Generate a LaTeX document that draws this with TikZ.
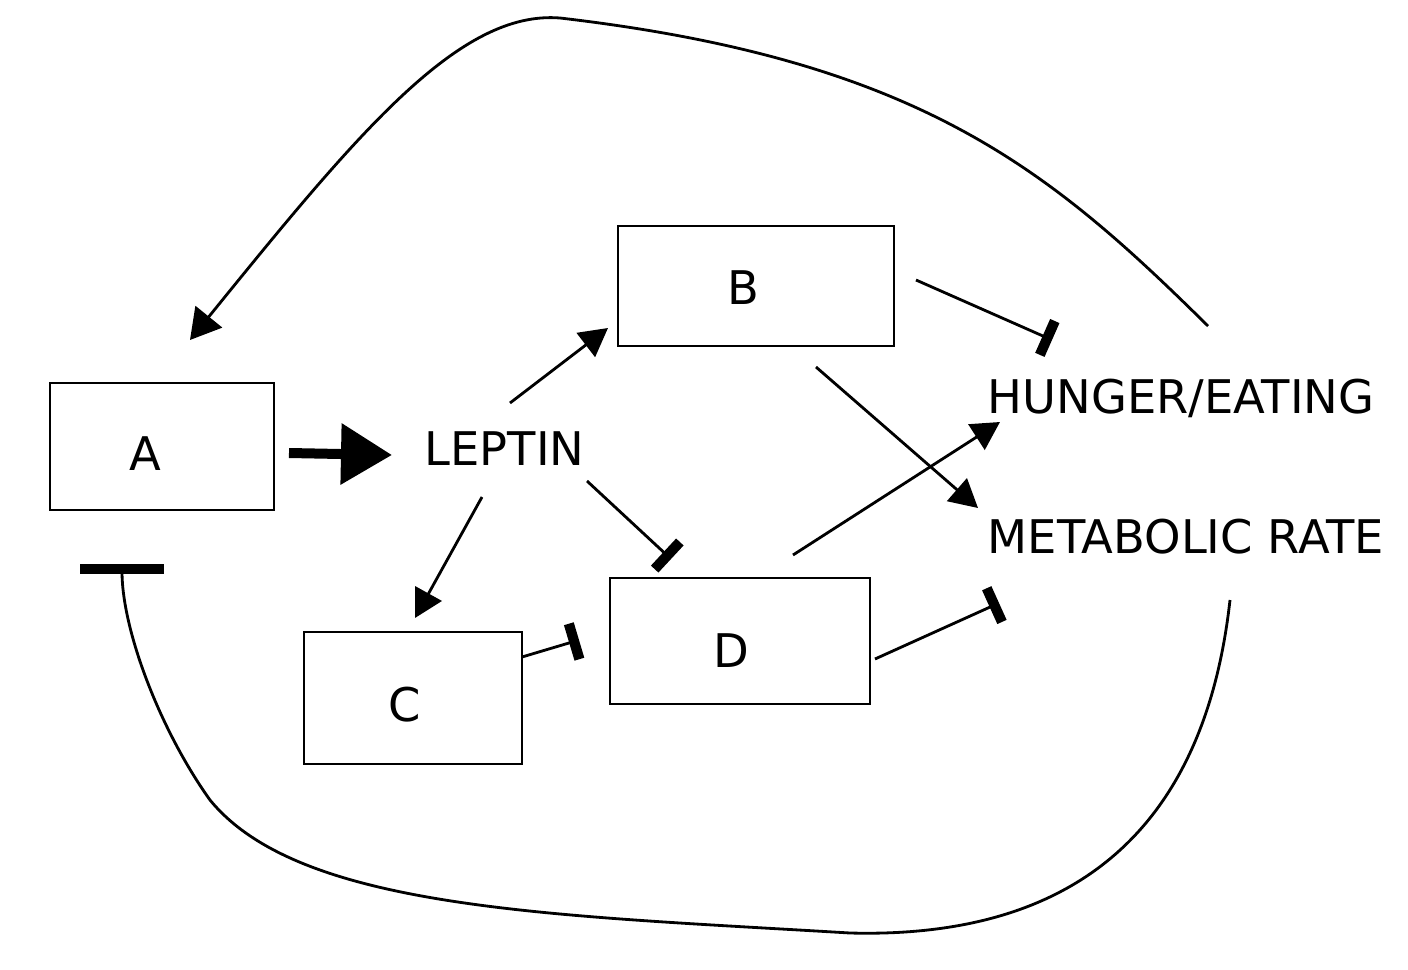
\documentclass[tikz,border=0pt]{standalone}
\usepackage{fontspec}
\setmainfont{DejaVu Sans}
\usetikzlibrary{arrows.meta,positioning,calc}
\tikzset{
  box/.style={draw,line width=0.8pt,inner sep=0pt},
  lbl/.style={font=\fontsize{13.2}{15}\selectfont,inner sep=0pt},
  link/.style={line width=0.8pt},
  act/.style={link,-{Triangle[length=0.28cm,width=0.3cm]}},
  inh/.style={link,-{Bar[width=0.37cm,line width=2.9pt]}},
}
\begin{document}
\begin{tikzpicture}
  \useasboundingbox (0,0) rectangle (14.08,-9.70);
  %% boxes
  \node[box,minimum width=2.24cm,minimum height=1.27cm] (boxA) at (1.62,-4.465) {};
  \node[box,minimum width=2.76cm,minimum height=1.20cm] (boxB) at (7.56,-2.86) {};
  \node[box,minimum width=2.18cm,minimum height=1.32cm] (boxC) at (4.13,-6.98) {};
  \node[box,minimum width=2.60cm,minimum height=1.26cm] (boxD) at (7.40,-6.41) {};
  %% labels
  \node[lbl,anchor=base] (A) at (1.45,-4.70) {A};
  \node[lbl,anchor=base] (B) at (7.43,-3.04) {B};
  \node[lbl,anchor=base] (C) at (4.05,-7.21) {C};
  \node[lbl,anchor=base] (D) at (7.31,-6.67) {D};
  \node[lbl,anchor=base west] (lep) at (4.24,-4.65) {LEPTIN};
  \node[lbl,anchor=base west] (hunger) at (9.87,-4.13) {HUNGER/EATING};
  \node[lbl,anchor=base west] (metab) at (9.87,-5.53) {METABOLIC RATE};
  %% connector ends
  \coordinate (aOut) at (2.89,-4.53);  \coordinate (lepIn) at (3.92,-4.55);
  \coordinate (lepB) at (5.10,-4.03);  \coordinate (bIn) at (6.08,-3.28);
  \coordinate (lepC) at (4.82,-4.97);  \coordinate (cIn) at (4.15,-6.18);
  \coordinate (lepD) at (5.87,-4.81);  \coordinate (dTop) at (6.71,-5.59);
  \coordinate (cOut) at (5.22,-6.57);  \coordinate (dLeft) at (5.79,-6.40);
  \coordinate (bOut) at (9.16,-2.80);  \coordinate (hunBar) at (10.52,-3.40);
  \coordinate (bMet) at (8.16,-3.67);  \coordinate (metIn) at (9.78,-5.08);
  \coordinate (dHun) at (7.93,-5.55);  \coordinate (hunIn) at (10.00,-4.22);
  \coordinate (dOut) at (8.75,-6.59);  \coordinate (metBar) at (9.99,-6.03);
  \coordinate (hunTop) at (12.08,-3.26); \coordinate (aTop) at (1.90,-3.40);
  \coordinate (metLow) at (12.30,-6.00); \coordinate (aLow) at (1.22,-5.64);
  %% arrows
  \draw[line width=0.1cm,-{Triangle[length=0.51cm,width=0.59cm]}] (aOut) -- (lepIn);
  \draw[act] (lepB) -- (bIn);
  \draw[act] (lepC) -- (cIn);
  \draw[inh] (lepD) -- (dTop);
  \draw[inh] (cOut) -- (dLeft);
  \draw[inh] (bOut) -- (hunBar);
  \draw[act] (bMet) -- (metIn);
  \draw[act] (dHun) -- (hunIn);
  \draw[inh] (dOut) -- (metBar);
  %% feedback loops
  \draw[link,-{Triangle[length=0.3cm,width=0.34cm]}] (hunTop)
    .. controls (10.5,-1.7) and (9.2,-0.6) .. (5.6,-0.18)
    .. controls (4.6,-0.1) and (3.6,-1.3) .. (aTop);
  \draw[link,-{Bar[width=0.84cm,line width=0.1cm]}] (metLow)
    .. controls (12.1,-7.8) and (11.2,-9.4) .. (8.5,-9.33)
    .. controls (5.5,-9.15) and (3.0,-9.1) .. (2.1,-8.0)
    .. controls (1.6,-7.3) and (1.22,-6.3) .. (aLow);
\end{tikzpicture}
\end{document}
